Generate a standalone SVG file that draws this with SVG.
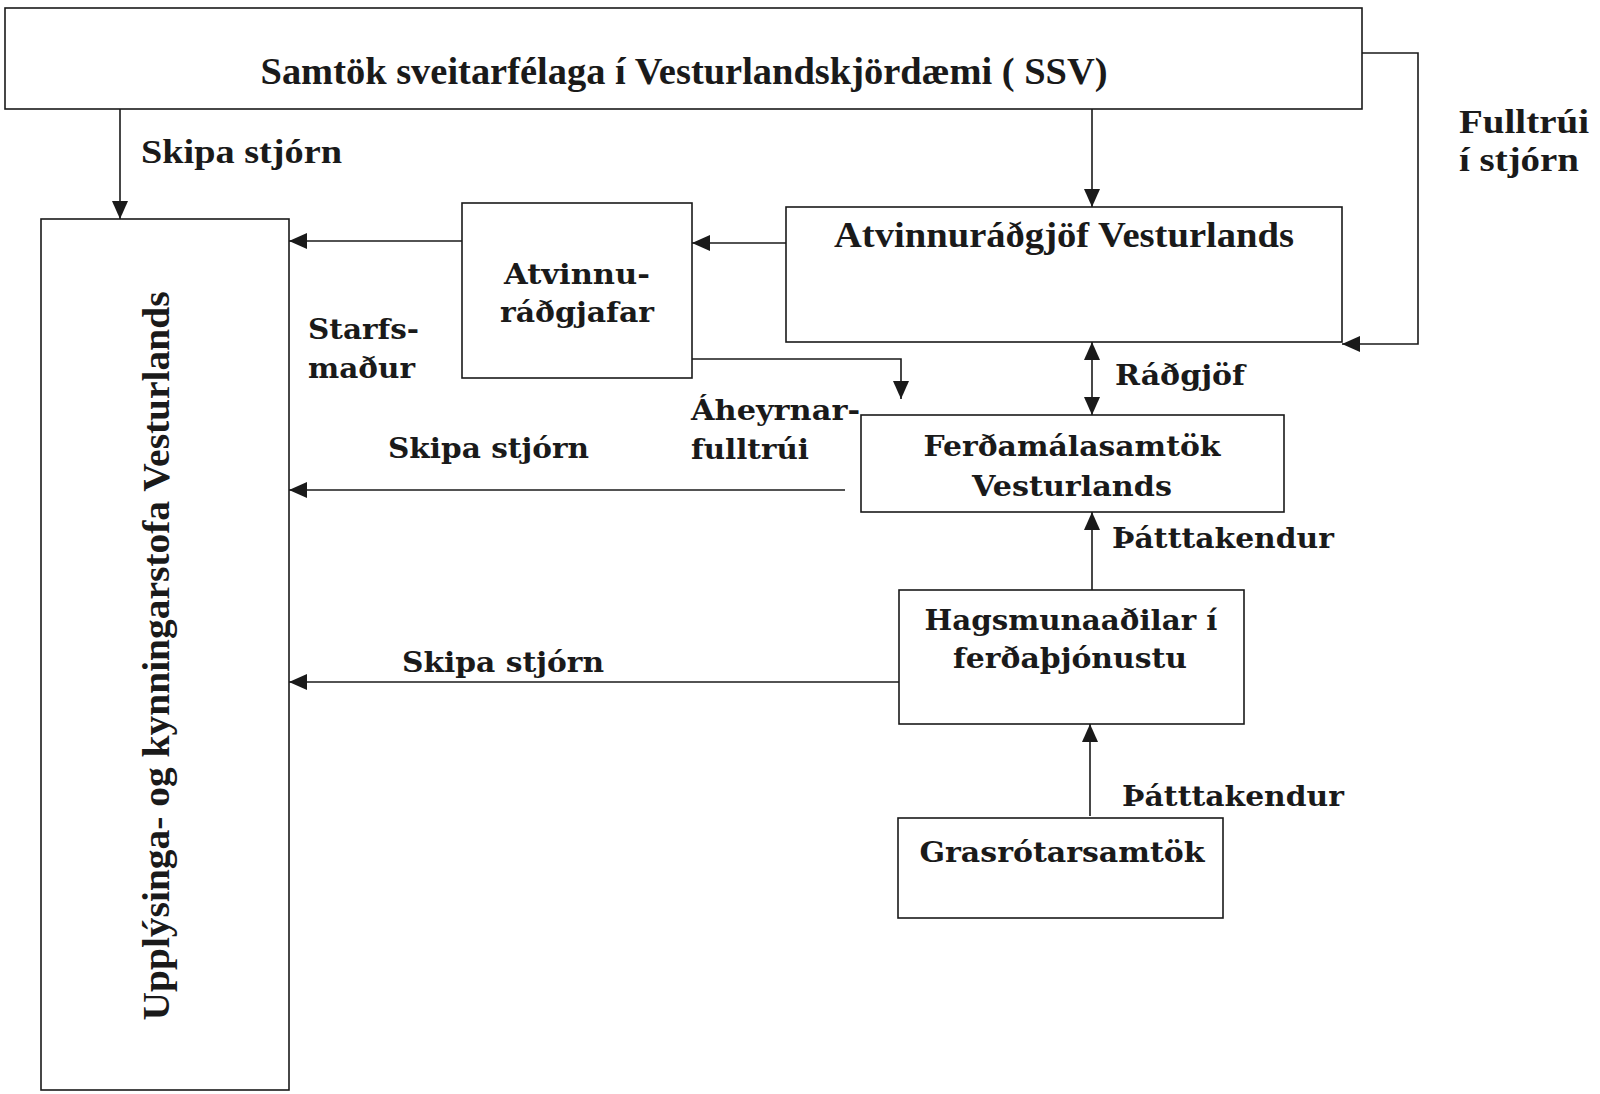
<svg xmlns="http://www.w3.org/2000/svg" width="1600" height="1094" viewBox="0 0 1600 1094">
<style>
.box{fill:#fff;stroke:#1a1a1a;stroke-width:1.6}
.ln{fill:none;stroke:#1a1a1a;stroke-width:1.6}
.n{font-family:"Liberation Serif","Times New Roman",serif;font-weight:bold;fill:#1a1a1a}
.w{font-family:"DejaVu Serif","Liberation Serif",serif;font-weight:bold;fill:#1a1a1a}
</style>
<defs>
<marker id="ah" markerUnits="userSpaceOnUse" markerWidth="18" markerHeight="16" refX="18" refY="8" orient="auto">
<path d="M0,0 L18,8 L0,16 z" fill="#1a1a1a"/>
</marker>
<marker id="as" markerUnits="userSpaceOnUse" markerWidth="18" markerHeight="16" refX="0" refY="8" orient="auto">
<path d="M18,0 L0,8 L18,16 z" fill="#1a1a1a"/>
</marker>
</defs>
<rect width="1600" height="1094" fill="#fff"/>

<g id="connectors">
<line class="ln" x1="120" y1="109" x2="120" y2="219" marker-end="url(#ah)"/>
<line class="ln" x1="1092" y1="109" x2="1092" y2="207" marker-end="url(#ah)"/>
<polyline class="ln" points="1362,53 1418,53 1418,344 1342,344" marker-end="url(#ah)"/>
<line class="ln" x1="786" y1="243" x2="692" y2="243" marker-end="url(#ah)"/>
<line class="ln" x1="462" y1="241" x2="289" y2="241" marker-end="url(#ah)"/>
<polyline class="ln" points="692,359 901,359 901,399" marker-end="url(#ah)"/>
<line class="ln" x1="1092" y1="342" x2="1092" y2="415" marker-start="url(#as)" marker-end="url(#ah)"/>
<line class="ln" x1="845" y1="490" x2="289" y2="490" marker-end="url(#ah)"/>
<line class="ln" x1="1092" y1="590" x2="1092" y2="512" marker-end="url(#ah)"/>
<line class="ln" x1="899" y1="682" x2="289" y2="682" marker-end="url(#ah)"/>
<line class="ln" x1="1090" y1="816" x2="1090" y2="724" marker-end="url(#ah)"/>
<text class="n" x="141" y="163" font-size="33" textLength="201" lengthAdjust="spacingAndGlyphs">Skipa stjórn</text>
<text class="n" x="1459" y="133" font-size="33" textLength="130" lengthAdjust="spacingAndGlyphs">Fulltrúi</text>
<text class="n" x="1459" y="171" font-size="33" textLength="120" lengthAdjust="spacingAndGlyphs">í stjórn</text>
<text class="w" x="308" y="339" font-size="27" textLength="111" lengthAdjust="spacingAndGlyphs">Starfs-</text>
<text class="w" x="308" y="378" font-size="27" textLength="107" lengthAdjust="spacingAndGlyphs">maður</text>
<text class="w" x="691" y="420" font-size="27" textLength="169" lengthAdjust="spacingAndGlyphs">Áheyrnar-</text>
<text class="w" x="691" y="459" font-size="27" textLength="118" lengthAdjust="spacingAndGlyphs">fulltrúi</text>
<text class="w" x="1115" y="385" font-size="27" textLength="130" lengthAdjust="spacingAndGlyphs">Ráðgjöf</text>
<text class="w" x="388" y="458" font-size="27" textLength="201" lengthAdjust="spacingAndGlyphs">Skipa stjórn</text>
<text class="w" x="1112" y="548" font-size="27" textLength="222" lengthAdjust="spacingAndGlyphs">Þátttakendur</text>
<text class="w" x="402" y="672" font-size="27" textLength="202" lengthAdjust="spacingAndGlyphs">Skipa stjórn</text>
<text class="w" x="1122" y="806" font-size="27" textLength="222" lengthAdjust="spacingAndGlyphs">Þátttakendur</text>
</g>

<g id="ssv">
<rect class="box" x="5" y="8" width="1357" height="101"/>
<text class="n" x="684" y="84" font-size="37" text-anchor="middle" textLength="847" lengthAdjust="spacingAndGlyphs">Samtök sveitarfélaga í Vesturlandskjördæmi ( SSV)</text>
</g>

<g id="upplysinga">
<rect class="box" x="41" y="219" width="248" height="871"/>
<text class="n" transform="translate(169,656) rotate(-90)" x="0" y="0" font-size="37" text-anchor="middle" textLength="729" lengthAdjust="spacingAndGlyphs">Upplýsinga- og kynningarstofa Vesturlands</text>
</g>

<g id="atvinnuradgjof">
<rect class="box" x="786" y="207" width="556" height="135"/>
<text class="n" x="1064" y="247" font-size="35" text-anchor="middle" textLength="460" lengthAdjust="spacingAndGlyphs">Atvinnuráðgjöf Vesturlands</text>
</g>

<g id="atvinnuradgjafar">
<rect class="box" x="462" y="203" width="230" height="175"/>
<text class="w" x="577" y="284" font-size="27" text-anchor="middle" textLength="146" lengthAdjust="spacingAndGlyphs">Atvinnu-</text>
<text class="w" x="577" y="322" font-size="27" text-anchor="middle" textLength="154" lengthAdjust="spacingAndGlyphs">ráðgjafar</text>
</g>

<g id="ferdamalasamtok">
<rect class="box" x="861" y="415" width="423" height="97"/>
<text class="w" x="1072" y="456" font-size="27" text-anchor="middle" textLength="297" lengthAdjust="spacingAndGlyphs">Ferðamálasamtök</text>
<text class="w" x="1072" y="496" font-size="27" text-anchor="middle" textLength="200" lengthAdjust="spacingAndGlyphs">Vesturlands</text>
</g>

<g id="hagsmunaadilar">
<rect class="box" x="899" y="590" width="345" height="134"/>
<text class="w" x="1071" y="630" font-size="27" text-anchor="middle" textLength="293" lengthAdjust="spacingAndGlyphs">Hagsmunaaðilar í</text>
<text class="w" x="1070" y="668" font-size="27" text-anchor="middle" textLength="234" lengthAdjust="spacingAndGlyphs">ferðaþjónustu</text>
</g>

<g id="grasrotarsamtok">
<rect class="box" x="898" y="818" width="325" height="100"/>
<text class="w" x="1062" y="862" font-size="27" text-anchor="middle" textLength="285" lengthAdjust="spacingAndGlyphs">Grasrótarsamtök</text>
</g>
</svg>
